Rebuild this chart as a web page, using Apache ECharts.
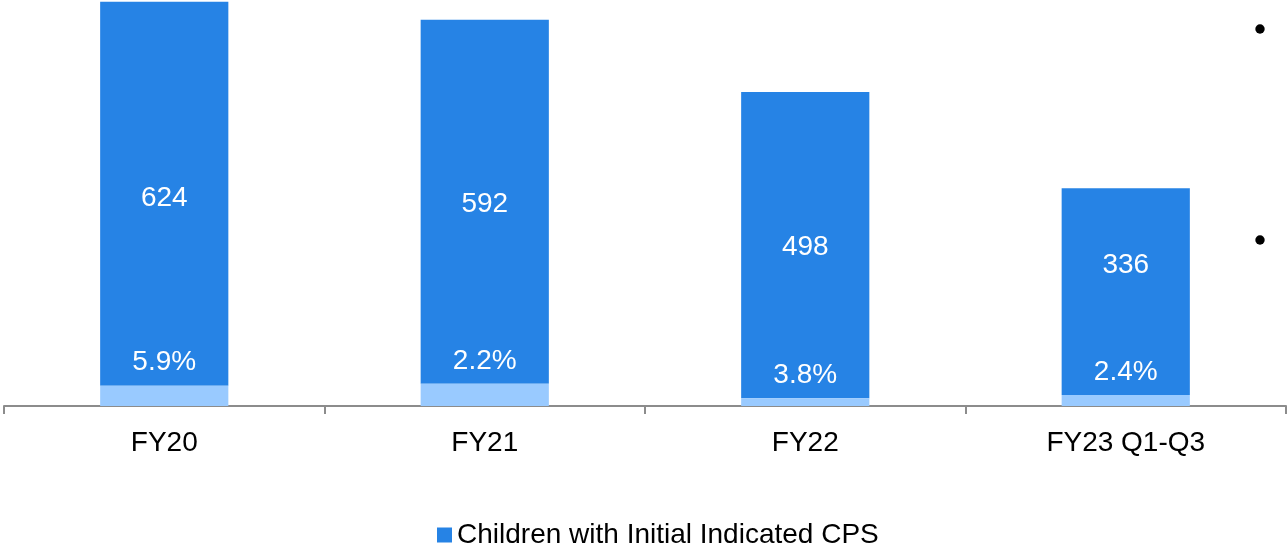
<!DOCTYPE html>
<html>
<head>
<meta charset="utf-8">
<script src="https://cdn.jsdelivr.net/npm/echarts@6/dist/echarts.min.js"></script>
<style>html,body{margin:0;padding:0;background:#fff}#c{width:1288px;height:547px}</style>
</head>
<body>
<div id="c"></div>
<script>
var categories = ['FY20', 'FY21', 'FY22', 'FY23 Q1-Q3'];
var cpsValues = [624, 592, 498, 336];
var baseValues = [33, 36, 12.5, 18];
var pctLabels = ['5.9%', '2.2%', '3.8%', '2.4%'];
var legendName = 'Children with Initial Indicated CPS';

var chart = echarts.init(document.getElementById('c'));
var font = "'Liberation Sans', Arial, sans-serif";
var labelShift = [5, 3, 2, -26];
var cpsData = cpsValues.map(function (v, i) {
  return {value: v, label: {offset: [0, labelShift[i]]}};
});
chart.setOption({
  animation: false,
  grid: {left: 4, right: 2, top: 0, bottom: 141},
  xAxis: {
    type: 'category',
    data: categories,
    axisLine: {lineStyle: {color: '#8c8c8c', width: 2}},
    axisTick: {show: true, length: 8, lineStyle: {color: '#8c8c8c', width: 2}},
    axisLabel: {color: '#000', fontSize: 28, fontFamily: font, margin: 23}
  },
  yAxis: {type: 'value', min: 0, max: 660, show: false, splitLine: {show: false}},
  legend: {
    data: [legendName],
    left: 437, top: 521, padding: 0,
    itemWidth: 15, itemHeight: 15,
    icon: 'rect',
    textStyle: {color: '#000', fontSize: 28, fontFamily: font}
  },
  series: [
    {
      name: 'Base', type: 'bar', stack: 's', data: baseValues, barWidth: '40%',
      itemStyle: {color: '#99caff'}, z: 3,
      label: {show: true, position: 'top', distance: 9, color: '#fff', fontSize: 28, fontFamily: font,
        formatter: function (p) { return pctLabels[p.dataIndex]; }}
    },
    {
      name: legendName, type: 'bar', stack: 's', data: cpsData, barWidth: '40%',
      itemStyle: {color: '#2683e5'}, z: 2,
      label: {show: true, position: 'inside', color: '#fff', fontSize: 28, fontFamily: font}
    }
  ],
  graphic: [
    {type: 'circle', shape: {cx: 1260, cy: 29, r: 4.7}, style: {fill: '#000'}},
    {type: 'circle', shape: {cx: 1260, cy: 240, r: 4.7}, style: {fill: '#000'}}
  ]
});
</script>
</body>
</html>
